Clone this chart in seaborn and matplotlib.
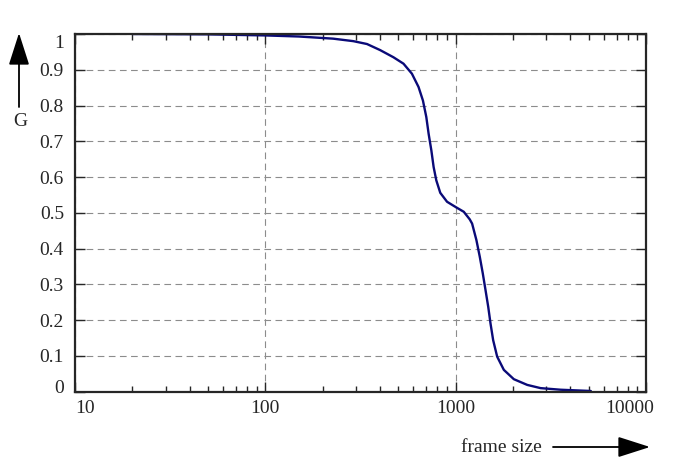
import numpy as np
import pandas as pd
import matplotlib
matplotlib.use("Agg")
import matplotlib.pyplot as plt
import matplotlib.ticker as mticker
from matplotlib.transforms import ScaledTranslation
import seaborn as sns

# %% Data
frame_size = [20, 50, 100, 150, 227, 290, 342, 401, 471, 532, 589, 638, 673,
              701, 721, 745, 766, 791, 830, 901, 960, 1009, 1103, 1185, 1220,
              1285, 1339, 1388, 1435, 1483, 1524, 1574, 1652, 1791, 2021,
              2377, 2793, 3565, 5130]
g_value = [1.0, 0.999, 0.996, 0.993, 0.987, 0.98, 0.972, 0.955, 0.935, 0.917,
           0.889, 0.852, 0.814, 0.768, 0.721, 0.675, 0.628, 0.591, 0.556,
           0.531, 0.522, 0.515, 0.503, 0.482, 0.470, 0.424, 0.377, 0.331,
           0.284, 0.237, 0.191, 0.144, 0.098, 0.061, 0.035, 0.019, 0.010,
           0.0055, 0.002]
x_ticks = [10, 100, 1000, 10000]
x_ticklabels = ["10", "100", "1000", "10000"]
y_ticks = [0, 0.1, 0.2, 0.3, 0.4, 0.5, 0.6, 0.7, 0.8, 0.9, 1]
y_ticklabels = ["0", "0.1", "0.2", "0.3", "0.4", "0.5", "0.6", "0.7", "0.8", "0.9", "1"]

df = pd.DataFrame({"frame size": frame_size, "G": g_value})

# %% Style
sns.set_style("ticks")
plt.rcParams["font.family"] = ["Liberation Serif", "DejaVu Serif"]
plt.rcParams["font.size"] = 14

fig = plt.figure(figsize=(6.98, 4.67), dpi=100)
ax = fig.add_axes([75 / 698, 1 - 391.7 / 467, (646 - 75) / 698, (391.7 - 34) / 467])

sns.lineplot(data=df, x="frame size", y="G", color="#0a0a78", linewidth=1.7, ax=ax)

ax.set_xscale("log")
ax.set_xlim(10, 10000)
ax.set_ylim(0, 1)

ax.set_xticks(x_ticks)
ax.set_xticklabels(x_ticklabels)
ax.xaxis.set_minor_locator(mticker.LogLocator(base=10, subs=np.arange(2, 10)))
ax.xaxis.set_minor_formatter(mticker.NullFormatter())
ax.set_yticks(y_ticks)
ax.set_yticklabels(y_ticklabels)

ax.tick_params(which="both", direction="in", top=True, right=True, width=1.0)
ax.tick_params(which="major", length=7)
ax.tick_params(which="minor", length=4)
ax.tick_params(axis="x", pad=6)
ax.tick_params(axis="y", pad=8)
for s in ax.spines.values():
    s.set_linewidth(1.6)

ax.grid(True, which="major", color="#8c8c8c", linestyle=(0, (6, 4)), linewidth=0.8)
ax.set_xlabel("")
ax.set_ylabel("")

# nudge end labels like the reference
xl = ax.get_xticklabels()
xl[0].set_horizontalalignment("left")
xl[-1].set_transform(xl[-1].get_transform() + ScaledTranslation(-0.16, 0, fig.dpi_scale_trans))
yl = ax.get_yticklabels()
yl[0].set_transform(yl[0].get_transform() + ScaledTranslation(0, 0.05, fig.dpi_scale_trans))
yl[-1].set_transform(yl[-1].get_transform() + ScaledTranslation(0, -0.08, fig.dpi_scale_trans))

# axis names with arrows
arrow = dict(arrowstyle="-|>,head_length=1.0,head_width=0.32", color="black",
             lw=1.3, mutation_scale=20, shrinkA=0, shrinkB=0)
ax.annotate("", xy=(19, 467 - 33), xytext=(19, 467 - 107),
            xycoords="figure pixels", textcoords="figure pixels", arrowprops=arrow)
fig.text(20 / 698, 1 - 122 / 467, "G", ha="center", va="center", fontsize=14)
ax.annotate("", xy=(650, 20), xytext=(553, 20),
            xycoords="figure pixels", textcoords="figure pixels", arrowprops=arrow)
fig.text(501 / 698, 20 / 467, "frame size", ha="center", va="center", fontsize=14)

fig.savefig("out.png", dpi=100)
